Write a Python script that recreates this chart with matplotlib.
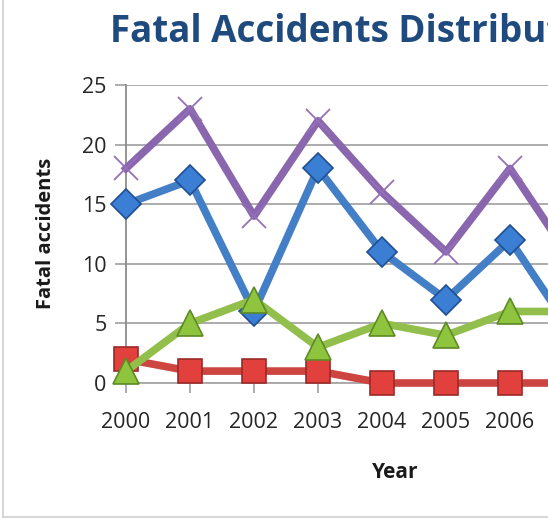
import matplotlib.pyplot as plt
from matplotlib.lines import Line2D

# data (chart is cropped on the right, 2007 only partly visible)
years = [2000, 2001, 2002, 2003, 2004, 2005, 2006, 2007]
blue_vals = [15, 17, 6, 18, 11, 7, 12, 4]
red_vals = [2, 1, 1, 1, 0, 0, 0, 0]
green_vals = [1, 5, 7, 3, 5, 4, 6, 6]
purple_vals = [18, 23, 14, 22, 16, 11, 18, 10]
tick_years = [2000, 2001, 2002, 2003, 2004, 2005, 2006, 2007]
tick_labels = ['2000', '2001', '2002', '2003', '2004', '2005', '2006', '']

plt.rcParams['font.family'] = ['Open Sans', 'DejaVu Sans']

W, H = 548, 519
fig = plt.figure(figsize=(W / 100, H / 100), dpi=100)
fig.patch.set_facecolor('white')

# axes: x=2000 at px 126, y=0 at px 383, y=25 at px 85, 64 px per year
left, bottom, top = 126, 383, 85
ax = fig.add_axes([left / W, (H - bottom) / H, 64 * 8 / W, (bottom - top) / H])
ax.set_xlim(2000, 2008)
ax.set_ylim(0, 25)

ax.set_yticks([0, 5, 10, 15, 20, 25])
ax.set_xticks(tick_years)
ax.set_xticklabels(tick_labels)
ax.grid(axis='y', color='#a6a6a6', linewidth=1.3)
ax.set_axisbelow(True)
for s in ['top', 'right']:
    ax.spines[s].set_visible(False)
ax.spines['left'].set_color('#8c8c8c')
ax.spines['bottom'].set_color('#a6a6a6')
ax.spines['left'].set_linewidth(1.3)
ax.spines['bottom'].set_linewidth(1.3)
ax.tick_params(axis='y', length=8, width=1.3, color='#a6a6a6', labelsize=15.5,
               labelcolor='#262626', pad=6)
ax.tick_params(axis='x', length=7, width=1.3, color='#a6a6a6', labelsize=15.5,
               labelcolor='#262626', pad=14)

lw = 5.5
ax.plot(years, blue_vals, color='#437fc7', lw=lw, marker='D', ms=15,
        mfc='#3a7fd4', mec='#1f4f8f', mew=1.2, clip_on=False, zorder=3)
ax.plot(years, red_vals, color='#cc4541', lw=lw, marker='s', ms=17,
        mfc='#e2403c', mec='#9a2a28', mew=1.2, clip_on=False, zorder=4)
ax.plot(years, green_vals, color='#92be4c', lw=lw, marker='^', ms=19,
        mfc='#8fc43e', mec='#5c8a25', mew=1.2, clip_on=False, zorder=5)
ax.plot(years, purple_vals, color='#8a66ae', lw=lw, marker='x', ms=17,
        mec='#9470b8', mew=1.3, clip_on=False, zorder=6)

fig.text(110 / W, 1 - 42 / H, 'Fatal Accidents Distribution', ha='left',
         va='baseline', fontsize=26.5, fontweight='bold', color='#1f4a7d')
fig.text(46 / W, 1 - 233 / H, 'Fatal accidents', rotation=90, ha='center',
         va='center', fontsize=14.5, fontweight='bold', color='#1a1a1a')
fig.text(395 / W, 1 - 472 / H, 'Year', ha='center', va='center',
         fontsize=15, fontweight='bold', color='#1a1a1a')

# chart area border (left and bottom edges visible)
fig.add_artist(Line2D([3 / W, 3 / W], [2 / H, 1], transform=fig.transFigure,
                      color='#d0d0d0', lw=1.2))
fig.add_artist(Line2D([3 / W, 1], [2 / H, 2 / H], transform=fig.transFigure,
                      color='#d0d0d0', lw=1.2))

fig.savefig('out.png', dpi=100)
